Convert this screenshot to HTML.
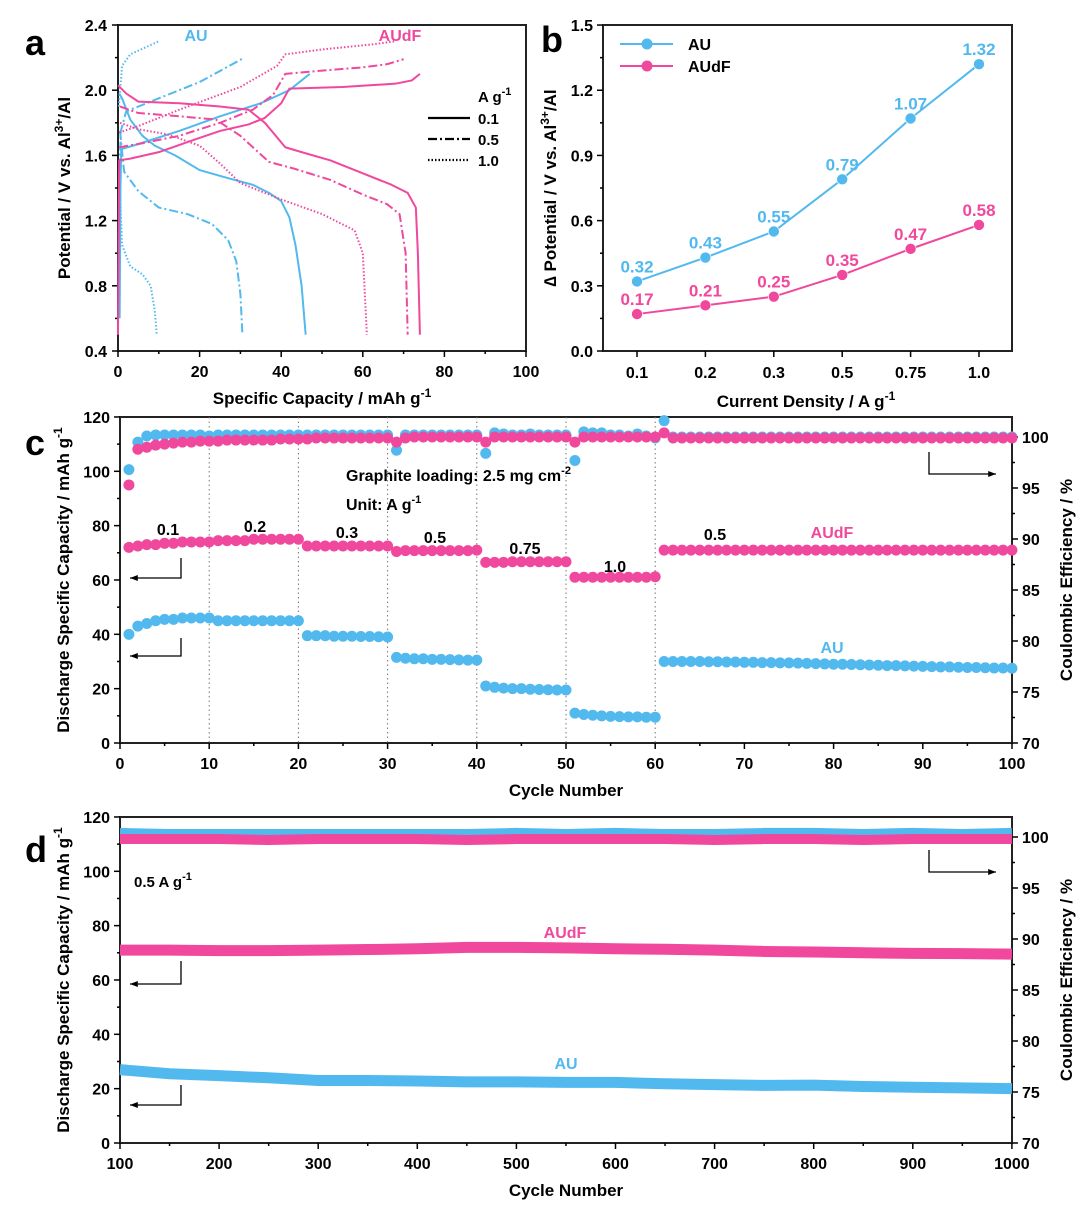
<!DOCTYPE html>
<html><head><meta charset="utf-8"><style>
html,body{margin:0;padding:0;background:#fff;}
svg{display:block;font-family:"Liberation Sans",Arial,sans-serif;font-weight:bold;}
</style></head><body>
<svg id="chart" width="1080" height="1205" viewBox="0 0 1080 1205" xmlns="http://www.w3.org/2000/svg"></svg>
<script>
const BLUE='#52b9ef', PINK='#f0489d';
// ---- Panel a data: [capacity, voltage]
const au01Dis=[[0.3,1.98],[1,1.95],[3,1.82],[6,1.72],[9,1.66],[14,1.6],[20,1.51],[27,1.46],[33,1.42],[37,1.37],[40,1.32],[42,1.22],[43.5,1.05],[45,0.8],[46,0.5]];
const au01Chg=[[0.4,0.6],[0.6,1.4],[0.8,1.63],[1,1.64],[5,1.67],[15,1.75],[25,1.84],[35,1.92],[42,2.0],[47,2.1]];
const au05Dis=[[0.5,1.75],[1.5,1.5],[5,1.38],[10,1.28],[17,1.24],[23,1.18],[27,1.08],[29,0.95],[30,0.75],[30.5,0.5]];
const au05Chg=[[0.3,0.9],[0.5,1.6],[0.7,1.75],[2,1.87],[10,1.95],[20,2.05],[31,2.2]];
const au10Dis=[[0.3,1.5],[1,1.05],[3,0.92],[6,0.87],[8,0.8],[9,0.65],[9.5,0.5]];
const au10Chg=[[0.2,1.9],[1,2.15],[3,2.22],[10,2.3]];
const df01Dis=[[0,2.03],[2,1.98],[5,1.93],[15,1.92],[25,1.9],[32,1.88],[36,1.8],[41,1.65],[45,1.62],[52,1.57],[60,1.49],[67,1.42],[71,1.37],[73,1.28],[73.5,1.0],[74,0.5]];
const df01Chg=[[0,0.5],[0.2,1.3],[0.3,1.57],[3,1.58],[10,1.62],[18,1.69],[25,1.75],[32,1.79],[36,1.83],[40,1.92],[42,2.01],[55,2.02],[68,2.04],[72,2.06],[74,2.1]];
const df05Dis=[[0.5,1.9],[5,1.86],[15,1.84],[24,1.82],[30,1.72],[37,1.56],[43,1.52],[52,1.45],[60,1.36],[66,1.3],[69,1.24],[70.5,1.0],[71,0.5]];
const df05Chg=[[0.3,1.65],[5,1.67],[15,1.72],[25,1.8],[33,1.88],[38,1.97],[41,2.1],[50,2.12],[60,2.14],[66,2.16],[70,2.19]];
const df10Dis=[[0.5,1.8],[5,1.76],[12,1.73],[20,1.66],[25,1.55],[30,1.43],[40,1.33],[50,1.24],[58,1.14],[60,1.0],[61,0.5]];
const df10Chg=[[0.3,1.74],[5,1.78],[15,1.88],[30,2.02],[39,2.15],[41,2.22],[50,2.25],[62,2.28],[68,2.3]];
// ---- Panel b data
const bCats=['0.1','0.2','0.3','0.5','0.75','1.0'];
const bAU=[0.32,0.43,0.55,0.79,1.07,1.32];
const bDF=[0.17,0.21,0.25,0.35,0.47,0.58];
// ---- Panel c data (cycles 1..100)
const cCapDF=[72,72.5,73,73,73.5,73.5,74,74,74,74, 74.5,74.5,74.5,74.5,75,75,75,75,75,75, 72.5,72.5,72.5,72.5,72.5,72.5,72.5,72.5,72.5,72.5, 70.5,70.8,70.8,70.8,70.8,70.8,70.8,70.8,70.8,71, 66.5,66.5,66.5,66.7,66.7,66.7,66.7,66.7,66.7,66.7, 61,61,61,61,61,61,61,61,61,61.2,
71,71,71,71,71,71,71,71,71,71,71,71,71,71,71,71,71,71,71,71,71,71,71,71,71,71,71,71,71,71,71,71,71,71,71,71,71,71,71,71];
const cCapAU=[40,43,44,45,45.5,45.5,46,46,46,46, 45,45,45,45,45,45,45,45,45,45, 39.5,39.5,39.5,39.3,39.3,39.3,39.2,39.2,39.1,39, 31.5,31.2,31,31,30.8,30.8,30.7,30.6,30.5,30.5, 21,20.5,20.2,20,20,19.8,19.7,19.6,19.5,19.5, 11,10.5,10.2,10,9.8,9.7,9.6,9.6,9.5,9.5,
30,30,30,30,30,29.9,29.9,29.8,29.8,29.7,29.7,29.6,29.6,29.5,29.5,29.4,29.3,29.2,29.1,29,29,28.9,28.8,28.7,28.6,28.5,28.5,28.4,28.3,28.2,28.1,28,28,27.9,27.8,27.8,27.7,27.6,27.6,27.5];
const cCEAU=[96.8,99.5,100.1,100.2,100.2,100.2,100.2,100.2,100.2,100.1, 100.2,100.2,100.2,100.2,100.2,100.2,100.2,100.2,100.2,100.2, 100.2,100.2,100.2,100.2,100.2,100.2,100.2,100.2,100.2,100.2, 98.7,100.2,100.2,100.2,100.2,100.2,100.2,100.2,100.2,100.2, 98.4,100.4,100.3,100.2,100.2,100.3,100.2,100.2,100.2,100.2, 97.7,100.5,100.4,100.4,100.2,100.2,100.1,100.3,100.1,99.9,
101.6,100,100,100,100,100,100,100,100,100,100,100,100,100,100,100,100,100,100,100,100,100,100,100,100,100,100,100,100,100,100,100,100,100,100,100,100,100,100,100];
const cCEDF=[95.3,98.8,99,99.2,99.3,99.4,99.5,99.5,99.6,99.6, 99.6,99.7,99.7,99.7,99.7,99.7,99.7,99.8,99.8,99.8, 99.8,99.9,99.9,99.9,99.9,99.9,99.9,99.9,99.9,99.9, 99.5,99.9,100,100,100,100,100,100,100,100, 99.5,100,100,100,100,100,100,100,100,100, 99.5,100,100,100,100,100,100,100,100,100,
100.4,99.9,99.9,99.9,99.9,99.9,99.9,99.9,99.9,99.9,99.9,99.9,99.9,99.9,99.9,99.9,99.9,99.9,99.9,99.9,99.9,99.9,99.9,99.9,99.9,99.9,99.9,99.9,99.9,99.9,99.9,99.9,99.9,99.9,99.9,99.9,99.9,99.9,99.9,99.9];
// ---- Panel d data (every 50 cycles from 100 to 1000)
const dCycles=[100,150,200,250,300,350,400,450,500,550,600,650,700,750,800,850,900,950,1000];
const dCapAU=[27,25.5,24.8,24,23,23,22.8,22.5,22.5,22.3,22.3,21.8,21.5,21.2,21.3,20.8,20.5,20.3,20];
const dCapDF=[71,71,70.8,70.8,71,71.2,71.5,72,72,71.8,71.5,71.3,71,70.5,70.3,70,69.8,69.7,69.5];
const dCEAU=[100.4,100.3,100.3,100.3,100.3,100.3,100.3,100.3,100.4,100.3,100.4,100.3,100.3,100.4,100.4,100.3,100.4,100.3,100.4];
const dCEDF=[99.8,99.8,99.8,99.7,99.8,99.8,99.8,99.7,99.8,99.8,99.8,99.8,99.7,99.8,99.8,99.7,99.8,99.8,99.8];

const NS='http://www.w3.org/2000/svg';
const svg=document.getElementById('chart');
function mk(tag,a,parent){const e=document.createElementNS(NS,tag);for(const k in a)e.setAttribute(k,a[k]);(parent||svg).appendChild(e);return e;}
function txt(x,y,s,size,anchor,fill){const t=mk('text',{x:x,y:y,'font-size':size,'text-anchor':anchor||'start',fill:fill||'#000'});t.innerHTML=s;return t;}
function line(x1,y1,x2,y2,w,c,dash){const a={x1:x1,y1:y1,x2:x2,y2:y2,stroke:c||'#000','stroke-width':w||1.5};if(dash)a['stroke-dasharray']=dash;return mk('line',a);}
function frame(x0,y0,x1,y1){const r=mk('rect',{x:x0,y:y0,width:x1-x0,height:y1-y0,fill:'none',stroke:'#222','stroke-width':2});return r;}

const ax=v=>118+v*4.08, ay=v=>351-(v-0.4)*163;
const bx=i=>637+i*68.4, by=v=>351-v*217.3;
const cx=v=>120+v*8.92, cyL=v=>743-v*2.717, cyR=v=>743-(v-70)*10.2;
const dx=v=>120+(v-100)*0.991, dyL=v=>1143-v*2.717, dyR=v=>1143-(v-70)*10.2;

// ============ PANEL A ============
let t;
t=txt(25,55,'a',36);
let f=frame(118,25,526,351);
for(let v=0.4;v<=2.41;v+=0.2){const y=ay(v);const major=Math.round(v*10)%4==0;line(118,y,major?112:115,y,1.5);
 if(major){t=txt(107,y+6,v.toFixed(1),16,'end');}}
for(let v=0;v<=100;v+=10){const x=ax(v);line(x,351,x,v%20==0?357:354,1.5);
 if(v%20==0){t=txt(x,377,String(v),16,'middle');}}
t=txt(322,404,'Specific Capacity / mAh g<tspan dy="-7" font-size="12">-1</tspan>',17,'middle');
t=txt(0,0,'Potential / V vs. Al<tspan dy="-7" font-size="12">3+</tspan><tspan dy="7">/Al</tspan>',17,'middle');t.setAttribute('transform','translate(70,188) rotate(-90)');
const aCurves=[[au01Dis,BLUE,''],[au01Chg,BLUE,''],[au05Dis,BLUE,'9 3 2 3'],[au05Chg,BLUE,'9 3 2 3'],[au10Dis,BLUE,'1.5 2'],[au10Chg,BLUE,'1.5 2'],
[df01Dis,PINK,''],[df01Chg,PINK,''],[df05Dis,PINK,'9 3 2 3'],[df05Chg,PINK,'9 3 2 3'],[df10Dis,PINK,'1.5 2'],[df10Chg,PINK,'1.5 2']];
const aNames=['au-0.1-discharge','au-0.1-charge','au-0.5-discharge','au-0.5-charge','au-1.0-discharge','au-1.0-charge','audf-0.1-discharge','audf-0.1-charge','audf-0.5-discharge','audf-0.5-charge','audf-1.0-discharge','audf-1.0-charge'];
aCurves.forEach((c,i)=>{const p=mk('polyline',{points:c[0].map(q=>ax(q[0])+','+ay(q[1])).join(' '),fill:'none',stroke:c[1],'stroke-width':2,'stroke-linejoin':'round'});
 if(c[2])p.setAttribute('stroke-dasharray',c[2]);
 
 });
t=txt(196,41,'AU',16,'middle',BLUE);
t=txt(400,41,'AUdF',16,'middle',PINK);
t=txt(478,102,'A g<tspan dy="-7" font-size="11">-1</tspan>',15);
[['0.1',''],['0.5','9 3 2 3'],['1.0','1.5 2']].forEach((e,i)=>{const y=118+i*21;const l=line(428,y,470,y,2.2,'#000',e[1]);
 
 
 t=txt(478,y+6,e[0],15);});

// ============ PANEL B ============
t=txt(541,52,'b',36);
f=frame(603,25,1012,351);
for(let k=0;k<=10;k++){const v=k*0.15;const y=by(v);line(603,y,k%2==0?597:600,y,1.5);
 if(k%2==0){t=txt(593,y+6,v.toFixed(1),16,'end');}}
bCats.forEach((c,i)=>{const x=bx(i);line(x,351,x,357,1.5);t=txt(x,378,c,16,'middle');});
t=txt(806,407,'Current Density / A g<tspan dy="-7" font-size="12">-1</tspan>',17,'middle');
t=txt(0,0,'∆ Potential / V vs. Al<tspan dy="-7" font-size="12">3+</tspan><tspan dy="7">/Al</tspan>',17,'middle');t.setAttribute('transform','translate(556,188) rotate(-90)');
[[bAU,BLUE,'au'],[bDF,PINK,'audf']].forEach(s=>{
 const p=mk('polyline',{points:s[0].map((v,i)=>bx(i)+','+by(v)).join(' '),fill:'none',stroke:s[1],'stroke-width':2});
 
 
 s[0].forEach((v,i)=>{const c=mk('circle',{cx:bx(i),cy:by(v),r:5.5,fill:s[1],stroke:'#fff','stroke-width':0.6});
  
  
  t=txt(bx(i),by(v)-9,v.toFixed(2),17,'middle',s[1]);});
});
[[BLUE,'AU',44],[PINK,'AUdF',66]].forEach(e=>{line(620,e[2],673,e[2],2,e[0]);const c=mk('circle',{cx:647,cy:e[2],r:5.5,fill:e[0]});
 
 
 t=txt(688,e[2]+6,e[1],16);});

// ============ shared axis builder for c & d ============
function dualAxes(y0,y1,xs,yl,yr,pfx,xvals){
 f=frame(120,y0,1012,y1);
 for(let v=0;v<=120;v+=10){const y=yl(v);line(120,y,v%20==0?114:117,y,1.5);
  if(v%20==0){t=txt(110,y+6,String(v),16,'end');}}
 for(let v=70;v<=100;v+=2.5){const y=yr(v);line(1012,y,v%5==0?1018:1015,y,1.5);
  if(v%5==0){t=txt(1022,y+6,String(v),16,'start');}}
 xvals.forEach((v,i)=>{const x=xs(v);line(x,y1,x,y1+6,1.5);t=txt(x,y1+26,String(v),16,'middle');
  if(i<xvals.length-1){const xm=(x+xs(xvals[i+1]))/2;line(xm,y1,xm,y1+3,1.5);}});
 t=txt(566,y1+53,'Cycle Number',17,'middle');
 const cy=(y0+y1)/2;
 t=txt(0,0,'Discharge Specific Capacity / mAh g<tspan dy="-7" font-size="12">-1</tspan>',17,'middle');t.setAttribute('transform','translate(69,'+cy+') rotate(-90)');
 t=txt(0,0,'Coulombic Efficiency / %',17,'middle');t.setAttribute('transform','translate(1072,'+cy+') rotate(-90)');
}
function arrow(pts,dir){const p=mk('polyline',{points:pts.map(q=>q.join(',')).join(' '),fill:'none',stroke:'#000','stroke-width':1.3});
 const e=pts[pts.length-1];const d=dir<0?6:-6;
 mk('polygon',{points:e[0]+','+e[1]+' '+(e[0]+d*1.3)+','+(e[1]-3)+' '+(e[0]+d*1.3)+','+(e[1]+3),fill:'#000'});return p;}

// ============ PANEL C ============
t=txt(25,455,'c',36);
dualAxes(417,743,cx,cyL,cyR,'panel-c',[0,10,20,30,40,50,60,70,80,90,100]);
for(let v=10;v<=60;v+=10){const l=line(cx(v),417,cx(v),743,1,'#777','1.5 3');}
function dots(arr,ys,col,nm){arr.forEach((v,i)=>{const c=mk('circle',{cx:cx(i+1),cy:ys(v),r:5.5,fill:col});
 
 });}
dots(cCEAU,cyR,BLUE,'panel-c-ce-au-point');
dots(cCEDF,cyR,PINK,'panel-c-ce-audf-point');
dots(cCapAU,cyL,BLUE,'panel-c-capacity-au-point');
dots(cCapDF,cyL,PINK,'panel-c-capacity-audf-point');
t=txt(346,481,'Graphite loading: 2.5 mg cm<tspan dy="-7" font-size="11">-2</tspan>',16);
t=txt(346,510,'Unit: A g<tspan dy="-7" font-size="11">-1</tspan>',16);
[['0.1',168,535],['0.2',255,532],['0.3',347,538],['0.5',435,543],['0.75',525,554],['1.0',615,572],['0.5',715,540]].forEach(r=>{t=txt(r[1],r[2],r[0],16,'middle');});
t=txt(832,538,'AUdF',16,'middle',PINK);
t=txt(832,653,'AU',16,'middle',BLUE);
let a1=arrow([[181,558],[181,578],[130,578]],-1);
a1=arrow([[181,638],[181,656],[130,656]],-1);
a1=arrow([[929,452],[929,474],[996,474]],1);

// ============ PANEL D ============
t=txt(25,862,'d',36);
dualAxes(817,1143,dx,dyL,dyR,'panel-d',[100,200,300,400,500,600,700,800,900,1000]);
function band(arr,ys,col,w,nm){const p=mk('polyline',{points:arr.map((v,i)=>dx(dCycles[i])+','+ys(v)).join(' '),fill:'none',stroke:col,'stroke-width':w,'stroke-linejoin':'round','stroke-linecap':'butt'});
 
 }
band(dCEAU,dyR,BLUE,10,'panel-d-ce-au-series');
band(dCEDF,dyR,PINK,10,'panel-d-ce-audf-series');
band(dCapDF,dyL,PINK,11,'panel-d-capacity-audf-series');
band(dCapAU,dyL,BLUE,11,'panel-d-capacity-au-series');
t=txt(134,887,'0.5 A g<tspan dy="-7" font-size="11">-1</tspan>',15);
t=txt(565,938,'AUdF',16,'middle',PINK);
t=txt(566,1069,'AU',16,'middle',BLUE);
a1=arrow([[181,961],[181,984],[130,984]],-1);
a1=arrow([[181,1085],[181,1105],[130,1105]],-1);
a1=arrow([[929,850],[929,872],[996,872]],1);
</script>
</body></html>
